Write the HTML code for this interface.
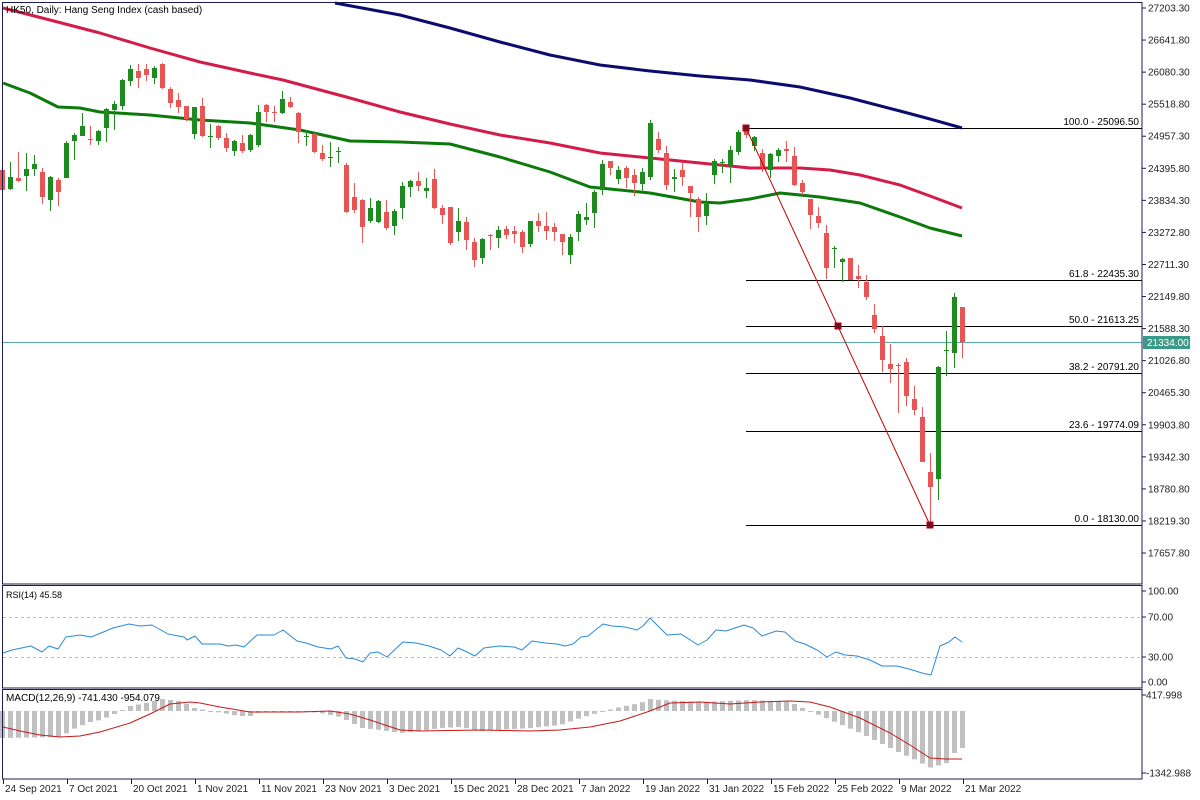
<!DOCTYPE html>
<html><head><meta charset="utf-8"><style>
html,body{margin:0;padding:0;background:#fff;}
svg{display:block;font-family:"Liberation Sans",sans-serif;}
</style></head><body>
<svg id="s" width="1200" height="800" xmlns="http://www.w3.org/2000/svg"></svg>
<script>
const S=document.getElementById('s');let h='';
function add(x){h+=x;}
// frames
add('<rect x="0" y="0" width="1200" height="800" fill="#fff"/>');
// grid/fib first
const fib=[[128,'100.0 - 25096.50'],[280,'61.8 - 22435.30'],[326,'50.0 - 21613.25'],[373,'38.2 - 20791.20'],[431,'23.6 - 19774.09'],[525,'0.0 - 18130.00']];
fib.forEach(f=>{add(`<line x1="746" y1="${f[0]+.5}" x2="1142" y2="${f[0]+.5}" stroke="#000" stroke-width="1"/>`);
add(`<text x="1139" y="${f[0]-3}" font-size="10" text-anchor="end" fill="#000">${f[1]}</text>`);});
add('<line x1="3" y1="342.5" x2="1142" y2="342.5" stroke="#5aa8a8" stroke-width="1"/>');
// MAs
function pl(pts,col,w){add(`<polyline fill="none" stroke="${col}" stroke-width="${w}" stroke-linejoin="round" points="${pts.map(p=>p.join(',')).join(' ')}"/>`);}
pl([[335,3],[400,15],[450,28],[500,42],[550,55],[600,65],[650,71],[700,76],[750,80],[800,87],[850,98],[900,111],[930,119],[962,128]],'#0c0c6e',3);
pl([[3,8],[50,20],[100,33],[150,48],[200,62],[250,73],[283,80],[350,98],[400,112],[450,124],[500,135],[550,143],[600,153],[650,158],[700,163],[750,168],[800,168],[830,170],[860,175],[900,185],[930,196],[962,208]],'#d41c48',3);
pl([[3,83],[30,93],[58,107],[80,108],[100,112],[150,115],[200,120],[250,123],[300,130],[350,141],[400,142],[450,144],[500,157],[550,172],[590,187],[650,193],[700,202],[720,203],[750,199],[780,193],[820,197],[860,203],[900,217],[930,228],[962,236]],'#0b7a0b',3);
// candles
const C=[
['r',170,190,170,190],['g',177,189,162,190],['r',178,181,152,182],['g',169,176,153,191],['g',164,169,155,176],['r',172,197,168,204],['g',177,200,176,211],['r',180,192,178,206],['g',143,178,141,178],['g',135,141,133,160],['g',126,136,113,136],['r',139,140,126,145],['g',131,141,130,145],['g',109,128,108,142],['g',104,110,101,130],['g',80,106,79,110],['g',69,81,65,86],['r',71,78,64,88],['r',69,75,64,81],['g',68,78,66,84],['r',64,88,63,89],['r',89,103,87,108],['r',100,107,93,113],['r',106,119,106,121],['g',107,134,107,139],['r',106,136,98,137],['g',136,137,124,148],['r',126,138,125,140],['r',138,148,133,152],['g',141,151,140,156],['r',143,151,135,153],
['g',135,150,134,152],['g',112,145,105,147],['r',105,112,104,122],['r',112,113,106,122],['g',99,113,91,114],['r',102,107,97,108],['r',113,132,112,143],['g',136,137,130,146],['r',134,152,133,153],['r',153,159,145,161],['g',157,158,142,167],['g',151,152,147,163],['r',165,212,163,213],['r',197,210,183,213],['r',200,227,199,243],['g',208,221,198,223],['g',201,222,200,223],['r',212,228,200,230],['g',211,226,209,235],['g',186,208,182,219],['g',181,187,180,197],['r',181,186,172,191],['g',188,191,178,198],['r',179,208,169,209],['r',208,215,205,224],['r',207,243,207,245],['g',221,232,208,241],['r',222,240,217,250],['r',242,260,238,267],['g',239,258,238,264],['r',235,236,234,250],['g',230,238,226,248],
['r',229,235,226,239],['r',231,234,226,243],['r',232,247,230,253],['g',221,244,221,247],['r',221,226,213,232],['r',226,231,212,240],['r',227,232,223,241],['r',234,242,234,255],['g',237,255,234,264],['g',214,232,211,241],['g',217,220,203,225],['g',192,213,190,228],['g',164,190,160,195],['r',161,168,161,175],['g',170,179,166,184],['r',168,178,166,188],['r',175,183,169,196],['g',172,184,168,192],['g',123,177,120,180],['r',139,150,132,153],['r',153,185,146,190],['g',177,179,169,192],['r',170,177,163,186],['r',186,193,186,217],['r',199,217,197,232],['g',204,216,193,225],['g',161,175,159,184],['g',162,163,159,173],['g',150,165,146,183],['g',132,152,130,155],
['r',128,135,127,138],['g',137,146,136,151],['r',153,167,149,172],['g',154,170,153,178],['g',150,156,148,162],['r',149,151,141,162],['r',156,185,147,186],['r',183,192,180,195],['r',199,215,199,229],['r',216,223,207,228],['r',233,268,225,279],['g',248,249,246,268],['g',259,262,258,282],['r',258,280,258,280],['r',276,279,265,288],['r',282,297,275,300],['r',315,329,304,333],['r',336,360,326,372],['r',364,369,344,383],['r',365,366,363,413],['r',362,396,358,406],['r',399,410,386,415],['r',417,462,407,462],['r',472,487,453,525],['g',367,479,366,500],['g',350,351,331,376],['g',297,353,293,368],['r',307,342,307,358]];
C.forEach((c,i)=>{const x=2+8*i,col=c[0]=='g'?'#1f8a1f':'#e85555';
add(`<line x1="${x+.5}" y1="${c[3]}" x2="${x+.5}" y2="${c[4]}" stroke="${col}" stroke-width="1"/>`);
add(`<rect x="${x-2}" y="${c[1]}" width="5" height="${Math.max(1,c[2]-c[1])}" fill="${col}"/>`);});
// trendline
add('<polyline fill="none" stroke="#c00000" stroke-width="1" points="746,128 930,525"/>');
[[746,128],[838,326],[930,525]].forEach(p=>add(`<rect x="${p[0]-3}" y="${p[1]-3}" width="6" height="6" fill="#6a1030" stroke="#c00000"/>`));
// RSI
add('<line x1="3" y1="617.5" x2="1142" y2="617.5" stroke="#bbb" stroke-dasharray="3,3"/>');
add('<line x1="3" y1="657.5" x2="1142" y2="657.5" stroke="#bbb" stroke-dasharray="3,3"/>');
pl([[3,653],[12,650],[31,646],[42,652],[49,646],[58,649],[66,637],[80,635],[91,637],[101,633],[113,628],[129,624],[140,626],[152,625],[168,634],[184,637],[187,640],[195,636],[202,644],[220,644],[228,646],[236,645],[244,647],[257,635],[274,635],[283,630],[297,641],[306,643],[318,647],[331,649],[338,646],[346,658],[355,659],[363,662],[370,653],[378,652],[387,657],[403,642],[416,643],[429,646],[441,650],[450,656],[458,648],[465,651],[475,656],[484,648],[499,646],[514,647],[522,650],[532,641],[545,643],[557,644],[565,646],[573,644],[581,637],[588,636],[603,624],[612,626],[625,627],[637,630],[643,626],[650,618],[658,626],[667,635],[681,634],[698,645],[707,640],[716,630],[726,631],[744,625],[753,628],[762,636],[776,631],[785,632],[795,641],[805,644],[817,650],[827,657],[836,652],[845,655],[857,656],[870,660],[882,666],[897,666],[909,669],[922,673],[931,675],[940,646],[949,642],[955,637],[962,642]],'#2a8ad4',1);
// MACD
function interp(pts,x){for(let k=0;k<pts.length-1;k++){if(x>=pts[k][0]&&x<=pts[k+1][0]){const t=(x-pts[k][0])/(pts[k+1][0]-pts[k][0]);return pts[k][1]+t*(pts[k+1][1]-pts[k][1]);}}return x<pts[0][0]?pts[0][1]:pts[pts.length-1][1];}
const H=[[2,738],[60,737],[75,728],[90,722],[100,720],[110,716],[118,712],[130,706],[150,702],[162,699],[170,700],[180,701],[194,708],[210,711],[240,716],[250,716],[260,712],[280,711],[300,711],[320,713],[340,717],[350,722],[362,728],[380,730],[400,733],[420,731],[440,728],[460,727],[480,731],[530,728],[560,725],[580,718],[600,712],[620,707],[640,703],[650,699],[660,700],[700,702],[750,700],[790,702],[800,707],[810,711],[830,720],[860,733],[880,743],[900,753],[920,762],[928,768],[936,766],[946,763],[954,753],[962,748]];
for(let i=0;i<121;i++){const x=2+8*i;const y=interp(H,x);const a=Math.min(y,711),b=Math.max(y,711);add(`<rect x="${x-2}" y="${a}" width="5" height="${Math.max(1,b-a)}" fill="#c0c0c0"/>`);}
pl([[3,727],[20,731],[40,735],[60,737],[80,736],[100,732],[130,723],[150,714],[170,704],[190,702],[200,703],[220,707],[250,712],[300,712],[330,711],[350,714],[370,720],[400,730],[420,731],[480,730],[530,731],[560,730],[590,727],[620,721],[650,711],[670,703],[700,702],[730,704],[760,702],[790,701],[810,702],[830,707],[860,718],[890,733],[910,745],[930,758],[945,759],[962,759]],'#c81818',1);
// pane frames
const fc='#1c1c50';
[[2.5,2.5,1139.5,581.5],[2.5,585.5,1139.5,102.5],[2.5,689.5,1139.5,89.5]].forEach(r=>add(`<rect x="${r[0]}" y="${r[1]}" width="${r[2]}" height="${r[3]}" fill="none" stroke="${fc}" stroke-width="1"/>`));
// labels
add('<text x="6" y="13" font-size="10" fill="#000">HK50, Daily:  Hang Seng Index (cash based)</text>');
add('<text x="6" y="598" font-size="9" fill="#000">RSI(14) 45.58</text>');
add('<text x="6" y="701" font-size="10" fill="#000">MACD(12,26,9) -741.430 -954.079</text>');
// price axis
for(let i=0;i<18;i++){const v=(27203.3-561.5*i).toFixed(2);const y=8+32.06*i;add(`<line x1="1142" y1="${y}" x2="1146" y2="${y}" stroke="${fc}"/><text x="1148" y="${y+3.5}" font-size="10" fill="#222">${v}</text>`);}
add('<rect x="1143" y="336" width="47" height="13" fill="#3a9a88"/><text x="1147" y="346" font-size="10" fill="#fff">21334.00</text>');
[[591,'100.00'],[617,'70.00'],[657,'30.00'],[682,'0.00']].forEach(l=>add(`<line x1="1142" y1="${l[0]}" x2="1146" y2="${l[0]}" stroke="${fc}"/><text x="1148" y="${l[0]+3.5}" font-size="10" fill="#222">${l[1]}</text>`));
[[695,'417.998'],[773,'-1342.988']].forEach(l=>add(`<line x1="1142" y1="${l[0]}" x2="1146" y2="${l[0]}" stroke="${fc}"/><text x="1146" y="${l[0]+3.5}" font-size="10" fill="#222">${l[1]}</text>`));
// date axis
const D=['24 Sep 2021','7 Oct 2021','20 Oct 2021','1 Nov 2021','11 Nov 2021','23 Nov 2021','3 Dec 2021','15 Dec 2021','28 Dec 2021','7 Jan 2022','19 Jan 2022','31 Jan 2022','15 Feb 2022','25 Feb 2022','9 Mar 2022','21 Mar 2022'];
D.forEach((d,i)=>{const x=3+64*i;add(`<line x1="${x+.5}" y1="779" x2="${x+.5}" y2="784" stroke="${fc}"/><text x="${x+2}" y="792" font-size="10" fill="#222">${d}</text>`);});
S.innerHTML=h;
</script>
</body></html>
